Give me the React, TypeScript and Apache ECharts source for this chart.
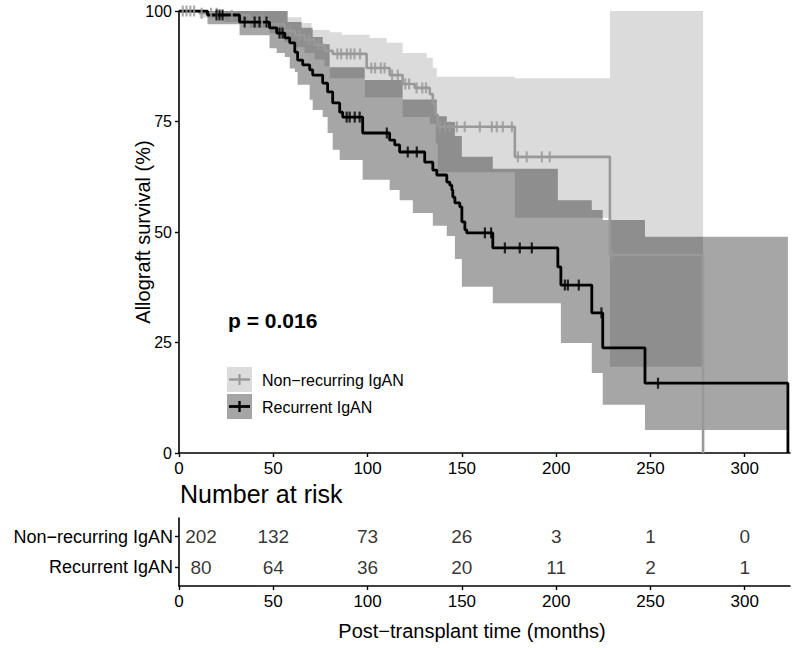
import React, { useEffect, useRef } from "react";
import * as echarts from "echarts";

const FONT = '"Liberation Sans", Arial, Helvetica, sans-serif';

// Recurrent IgAN Kaplan-Meier curve (months, % surviving)
const recTimes = [0, 15.1, 32.1, 48.0, 51.8, 56.1, 58.7, 61.4, 62.9, 65.6, 69.3, 70.9, 76.2, 78.8, 81.5, 85.2, 86.8, 97.4, 111.7, 114.4, 117.0, 130.3, 134.6, 136.7, 142.0, 143.6, 144.7, 145.2, 146.3, 148.9, 150.0, 151.6, 152.6, 166.4, 200.9, 202.5, 218.9, 224.7, 247.1, 322.9];
const recSurv = [100, 99.1, 97.5, 96.2, 95.0, 93.9, 92.8, 90.7, 88.9, 87.8, 86.7, 85.5, 83.7, 81.7, 79.2, 77.1, 76.0, 72.4, 70.8, 69.7, 68.1, 65.8, 64.0, 62.9, 61.3, 60.6, 59.5, 57.9, 56.6, 55.7, 52.3, 50.5, 49.8, 46.4, 42.1, 38.0, 31.7, 23.8, 15.8, 0];
const recEnd = 322.9;

// Non-recurring IgAN Kaplan-Meier curve
const nonTimes = [0, 10.9, 24.2, 37.4, 48.0, 56.0, 61.4, 66.6, 71.9, 77.2, 81.5, 99.5, 111.7, 118.6, 125.0, 133.0, 134.6, 136.1, 137.2, 178.1, 228.5, 277.9];
const nonSurv = [100, 99.5, 99.0, 98.0, 97.0, 95.5, 94.5, 93.5, 92.3, 91.0, 90.3, 87.1, 85.5, 83.5, 82.6, 81.2, 79.0, 76.5, 73.8, 67.0, 44.8, 0];
const nonEnd = 277.9;

// Confidence bands (step edges)
const nonUpT = [0, 57.6, 65.0, 70.3, 79.9, 86.3, 101.1, 110.1, 118.6, 131.4, 134.6, 136.7, 178.1, 228.5];
const nonUpV = [100, 98.6, 97.3, 95.7, 95.2, 94.6, 93.9, 92.8, 90.5, 89.4, 87.1, 85.1, 84.8, 100];
const nonLoT = [0, 10.9, 24.2, 37.4, 48.0, 56.0, 61.4, 66.6, 71.9, 77.2, 79.9, 98.5, 118.6, 133.0, 136.1, 137.2, 178.1, 228.5];
const nonLoV = [100, 98.5, 97.5, 96.2, 94.9, 93.0, 91.8, 90.5, 89.0, 87.5, 84.8, 80.5, 76.0, 74.5, 70.0, 63.5, 53.2, 19.5];

const recUpT = [0, 57.6, 65.0, 70.9, 76.2, 79.9, 98.5, 118.6, 136.7, 142.0, 146.3, 150.0, 166.4, 200.9, 218.9, 224.7, 247.1];
const recUpV = [100, 97.5, 96.2, 94.1, 92.5, 87.3, 84.4, 80.0, 76.2, 74.9, 71.7, 67.0, 64.3, 57.2, 55.0, 52.7, 48.9];
const recLoT = [0, 15.1, 32.1, 48.0, 51.8, 56.1, 58.7, 61.4, 62.9, 69.3, 70.9, 76.2, 78.8, 81.5, 85.2, 97.4, 111.7, 117.0, 124.0, 134.6, 142.0, 146.3, 150.0, 166.4, 202.5, 218.9, 224.7, 247.1];
const recLoV = [100, 97.0, 94.5, 91.6, 90.5, 89.6, 87.0, 86.2, 83.3, 79.9, 77.6, 76.0, 72.4, 68.6, 66.3, 61.8, 59.5, 57.2, 54.3, 51.4, 49.1, 43.9, 37.6, 33.9, 24.9, 18.1, 10.9, 5.2];

// Censoring times
const recCensT = [19.9, 21.5, 23.1, 34.8, 40.1, 42.7, 46.4, 53.3, 54.9, 88.9, 90.5, 93.2, 95.8, 110.2, 121.3, 126.1, 162.2, 165.5, 172.8, 180.7, 187.1, 204.6, 206.2, 212.0, 224.0, 254.0];
const nonCensT = [2, 4, 6, 8, 12, 17, 20, 28, 44, 59, 64, 69, 74, 84, 86, 89, 91, 93, 96, 102, 104, 107, 109, 113, 116, 120, 122, 126, 129, 131, 138.3, 141, 143.6, 147.3, 151.5, 159.5, 165.9, 168.5, 171.7, 176.5, 179.7, 184.4, 192.4, 196.6, 229.5];

// Number at risk table
const riskTimes = [0, 50, 100, 150, 200, 250, 300];
const nonRisk = [202, 132, 73, 26, 3, 1, 0];
const recRisk = [80, 64, 36, 20, 11, 2, 1];
const rowNames = ["Recurrent IgAN", "Non\u2212recurring IgAN"];
const xTicks = [0, 50, 100, 150, 200, 250, 300];

const GRAY = "#999999";
const BLACK = "#000000";

function stepAt(times: number[], vals: number[], t: number) {
  let v = vals[0];
  for (let i = 0; i < times.length; i++) {
    if (times[i] <= t) v = vals[i];
    else break;
  }
  return v;
}

function zip(a: number[], b: number[]) {
  return a.map((t, i) => [t, b[i]]);
}

function bandRender(upT: number[], upV: number[], loT: number[], loV: number[], end: number, fill: string) {
  return (_params: any, api: any) => {
    const pts: number[][] = [];
    for (let i = 0; i < upT.length; i++) {
      const nx = i + 1 < upT.length ? upT[i + 1] : end;
      pts.push(api.coord([upT[i], upV[i]]));
      pts.push(api.coord([nx, upV[i]]));
    }
    for (let i = loT.length - 1; i >= 0; i--) {
      const nx = i + 1 < loT.length ? loT[i + 1] : end;
      pts.push(api.coord([nx, loV[i]]));
      pts.push(api.coord([loT[i], loV[i]]));
    }
    return { type: "polygon", shape: { points: pts }, style: { fill, stroke: null }, silent: true };
  };
}

export default function App() {
  const ref = useRef<HTMLDivElement>(null);
  useEffect(() => {
    if (!ref.current) return;
    const chart = echarts.init(ref.current, null, { renderer: "svg" });
    const axisLine = { show: true, lineStyle: { color: "#000", width: 1.6 } };
    const axisTick = { show: true, length: 4, lineStyle: { color: "#000", width: 1.4 } };
    const option: any = {
      animation: false,
      backgroundColor: "#ffffff",
      textStyle: { fontFamily: FONT },
      grid: [
        { left: 179, top: 11, width: 611, height: 442 },
        { left: 179, top: 518, width: 611, height: 68 },
      ],
      xAxis: [
        {
          type: "value", gridIndex: 0, min: 0, max: 324,
          axisLine, axisTick: { ...axisTick, customValues: xTicks },
          axisLabel: { customValues: xTicks, color: "#000", fontSize: 17, margin: 7, fontFamily: FONT },
          splitLine: { show: false },
        },
        {
          type: "value", gridIndex: 1, min: 0, max: 324,
          axisLine, axisTick: { ...axisTick, customValues: xTicks },
          axisLabel: { customValues: xTicks, color: "#000", fontSize: 17, margin: 7, fontFamily: FONT },
          splitLine: { show: false },
        },
      ],
      yAxis: [
        {
          type: "value", gridIndex: 0, min: 0, max: 100, interval: 25,
          axisLine, axisTick,
          axisLabel: { color: "#000", fontSize: 16, margin: 7, fontFamily: FONT },
          splitLine: { show: false },
          name: "Allograft survival (%)", nameLocation: "middle", nameGap: 26, nameMoveOverlap: false,
          nameTextStyle: { color: "#000", fontSize: 20, fontFamily: FONT },
        },
        {
          type: "value", gridIndex: 1, min: 0.4, max: 2.6,
          axisLine, axisTick: { ...axisTick, customValues: [1, 2] },
          axisLabel: {
            customValues: [1, 2], color: "#000", fontSize: 18, margin: 6, fontFamily: FONT,
            formatter: (v: number) => (v === 2 ? rowNames[1] : rowNames[0]),
          },
          splitLine: { show: false },
        },
      ],
      graphic: [
        { type: "text", x: 228, y: 320, style: { text: "p = 0.016", fontSize: 21, fontWeight: "bold", fontFamily: FONT, fill: "#000", verticalAlign: "middle" } },
        { type: "rect", shape: { x: 227, y: 367, width: 25, height: 25 }, style: { fill: "#dcdcdc" } },
        { type: "line", shape: { x1: 229, y1: 379.5, x2: 250, y2: 379.5 }, style: { stroke: GRAY, lineWidth: 2.4 } },
        { type: "line", shape: { x1: 239.5, y1: 374, x2: 239.5, y2: 385 }, style: { stroke: GRAY, lineWidth: 2.2 } },
        { type: "text", x: 262, y: 380, style: { text: "Non\u2212recurring IgAN", fontSize: 16, fontFamily: FONT, fill: "#000", verticalAlign: "middle" } },
        { type: "rect", shape: { x: 227, y: 394, width: 25, height: 25 }, style: { fill: "#a5a5a5" } },
        { type: "line", shape: { x1: 229, y1: 406.5, x2: 250, y2: 406.5 }, style: { stroke: BLACK, lineWidth: 2.8 } },
        { type: "line", shape: { x1: 239.5, y1: 401, x2: 239.5, y2: 412 }, style: { stroke: BLACK, lineWidth: 2.4 } },
        { type: "text", x: 262, y: 407, style: { text: "Recurrent IgAN", fontSize: 16, fontFamily: FONT, fill: "#000", verticalAlign: "middle" } },
        { type: "text", x: 180, y: 494, style: { text: "Number at risk", fontSize: 25, fontFamily: FONT, fill: "#000", verticalAlign: "middle" } },
        { type: "text", x: 472, y: 631, style: { text: "Post\u2212transplant time (months)", fontSize: 20, fontFamily: FONT, fill: "#000", align: "center", verticalAlign: "middle" } },
      ],
      series: [
        {
          type: "custom", xAxisIndex: 0, yAxisIndex: 0, data: [[0, 0]], z: 1, silent: true,
          renderItem: bandRender(nonUpT, nonUpV, nonLoT, nonLoV, nonEnd, "rgba(0,0,0,0.14)"),
        },
        {
          type: "custom", xAxisIndex: 0, yAxisIndex: 0, data: [[0, 0]], z: 1, silent: true,
          renderItem: bandRender(recUpT, recUpV, recLoT, recLoV, recEnd, "rgba(0,0,0,0.35)"),
        },
        {
          name: "Non\u2212recurring IgAN", type: "line", step: "end", xAxisIndex: 0, yAxisIndex: 0,
          data: zip(nonTimes, nonSurv), showSymbol: false, symbol: "none", z: 3,
          lineStyle: { color: GRAY, width: 2.6 },
        },
        {
          name: "Recurrent IgAN", type: "line", step: "end", xAxisIndex: 0, yAxisIndex: 0,
          data: zip(recTimes, recSurv), showSymbol: false, symbol: "none", z: 4,
          lineStyle: { color: BLACK, width: 2.8 },
        },
        {
          type: "scatter", xAxisIndex: 0, yAxisIndex: 0, z: 5, symbol: "rect", symbolSize: [2.2, 11],
          itemStyle: { color: GRAY }, data: nonCensT.map((t) => [t, stepAt(nonTimes, nonSurv, t)]),
        },
        {
          type: "scatter", xAxisIndex: 0, yAxisIndex: 0, z: 6, symbol: "rect", symbolSize: [2.2, 11],
          itemStyle: { color: BLACK }, data: recCensT.map((t) => [t, stepAt(recTimes, recSurv, t)]),
        },
        {
          type: "scatter", xAxisIndex: 1, yAxisIndex: 1, symbolSize: 1, itemStyle: { color: "rgba(0,0,0,0)" },
          data: riskTimes.map((t, i) => ({ value: [t, 2, nonRisk[i]], label: i === 0 ? { offset: [22, 0] } : undefined })),
          label: { show: true, position: "inside", formatter: (p: any) => String(p.value[2]), color: "#000", fontSize: 19, fontFamily: FONT },
        },
        {
          type: "scatter", xAxisIndex: 1, yAxisIndex: 1, symbolSize: 1, itemStyle: { color: "rgba(0,0,0,0)" },
          data: riskTimes.map((t, i) => ({ value: [t, 1, recRisk[i]], label: i === 0 ? { offset: [22, 0] } : undefined })),
          label: { show: true, position: "inside", formatter: (p: any) => String(p.value[2]), color: "#000", fontSize: 19, fontFamily: FONT },
        },
      ],
    };
    chart.setOption(option);
    return () => chart.dispose();
  }, []);
  return <div ref={ref} style={{ position: "fixed", left: 0, top: 0, width: 795, height: 648, background: "#fff" }} />;
}
